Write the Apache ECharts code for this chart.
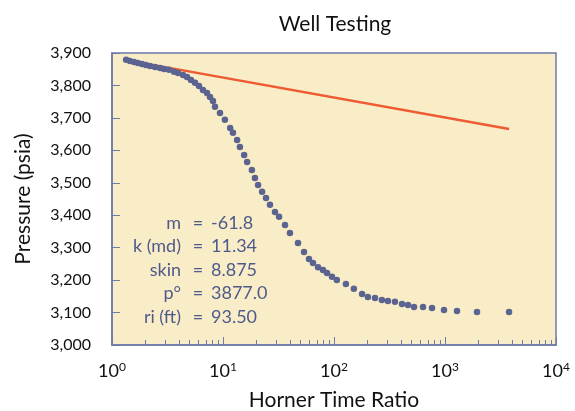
<!DOCTYPE html>
<html><head><meta charset="utf-8">
<script src="https://cdn.jsdelivr.net/npm/echarts@6/dist/echarts.min.js"></script>
<style>html,body{margin:0;padding:0;background:#fff}#c{width:575px;height:411px}</style>
</head><body><div id="c"></div>
<script>
// Horner time ratio (x) and pressure (psia) of measured points
const hornerRatio = [1.34,1.45,1.58,1.71,1.86,2.02,2.2,2.44,2.71,2.94,3.26,3.62,3.93,4.36,4.74,5.15,5.6,6.08,6.6,7.18,7.64,8.13,8.47,9.4,10.4,11.6,12.3,13.4,14.2,15.5,16.5,18.2,19.4,20.7,22.5,24.4,26.5,29.4,32.0,36.2,40.1,47.4,53.7,59.5,64.7,71.8,79.6,86.5,95.9,106,128,151,179,202,234,270,306,354,410,464,526,634,764,979,1283,1942,3775];
const pressure = [3879,3875,3872,3869,3866,3863,3860,3857,3854,3851,3848,3842,3838,3832,3826,3817,3808,3798,3786,3777,3764,3752,3734,3715,3694,3669,3654,3632,3610,3586,3564,3539,3515,3493,3472,3453,3432,3410,3395,3370,3345,3314,3287,3265,3253,3240,3231,3222,3210,3200,3188,3173,3157,3148,3145,3139,3136,3133,3126,3123,3117,3117,3114,3108,3105,3102,3102];
// Semilog straight line fit (endpoints)
const fitRatio = [1.34, 3780];
const fitPressure = [3878, 3666];
// Axis tick labels
const yTicks = [3000,3100,3200,3300,3400,3500,3600,3700,3800,3900];
const xDecades = [1,10,100,1000,10000];
// Annotation
const annLabels = ["m","k (md)","skin","p°","ri (ft)"];
const annValues = ["-61.8","11.34","8.875","3877.0","93.50"];

const FONT = 'Lato';
const chart = echarts.init(document.getElementById('c'), null, {renderer:'canvas'});
const points = hornerRatio.map((x,i)=>[x,pressure[i]]);
const fit = fitRatio.map((x,i)=>[x,fitPressure[i]]);
const ann = [];
const annColor = '#4f5a8c';
annLabels.forEach((l,i)=>{
  const y = 223 + i*23.5;
  ann.push({type:'text', x:181, y:y, style:{text:l, fill:annColor, font:'18px '+FONT, align:'right', verticalAlign:'middle'}});
  ann.push({type:'text', x:198, y:y, style:{text:'=', fill:annColor, font:'18px '+FONT, align:'center', verticalAlign:'middle'}});
  ann.push({type:'text', x:211, y:y, style:{text:annValues[i], fill:annColor, font:'18px '+FONT, align:'left', verticalAlign:'middle'}});
});
chart.setOption({
  animation:false,
  title:{text:'Well Testing', left:330, top:9, textAlign:'center', textStyle:{fontFamily:FONT, fontSize:21, fontWeight:'normal', color:'#111'}},
  grid:{left:112, top:53, right:19, bottom:66, outerBoundsMode:'none', containLabel:false, show:true, backgroundColor:'#f9edc7', borderColor:'#6d79a8', borderWidth:1.5},
  xAxis:{type:'log', logBase:10, min:1, max:10000,
    name:'Horner Time Ratio', nameLocation:'middle', nameGap:45,
    nameTextStyle:{fontFamily:FONT, fontSize:21, color:'#111'},
    axisLine:{show:true, lineStyle:{color:'#6d79a8', width:1.5}},
    axisTick:{show:true, inside:true, length:8, lineStyle:{color:'#6d79a8'}},
    minorTick:{show:true, splitNumber:9, length:5, lineStyle:{color:'#6d79a8'}},
    splitLine:{show:false},
    axisLabel:{margin:16, formatter:(v)=>'10{s|'+Math.round(Math.log10(v))+'}', color:'#111', fontFamily:FONT, fontSize:18,
      rich:{s:{fontSize:12, verticalAlign:'top', padding:[0,0,8,0], fontFamily:FONT, color:'#111'}}}
  },
  yAxis:{type:'value', min:3000, max:3900, interval:100,
    name:'Pressure (psia)', nameLocation:'middle', nameGap:78, nameRotate:90,
    nameTextStyle:{fontFamily:FONT, fontSize:21, color:'#111'},
    axisLine:{show:true, lineStyle:{color:'#6d79a8', width:1.5}},
    axisTick:{show:true, inside:true, length:8, lineStyle:{color:'#6d79a8'}},
    splitLine:{show:false},
    axisLabel:{margin:21, color:'#111', fontFamily:FONT, fontSize:16, formatter:(v)=>v.toLocaleString('en-US')}
  },
  series:[
    {type:'line', data:fit, symbol:'none', lineStyle:{color:'#ee5a32', width:2.5}, z:2},
    {type:'scatter', data:points, symbol:'circle', symbolSize:6.5, itemStyle:{color:'#5b6390', opacity:1}, z:3}
  ],
  graphic:ann
});
</script></body></html>
